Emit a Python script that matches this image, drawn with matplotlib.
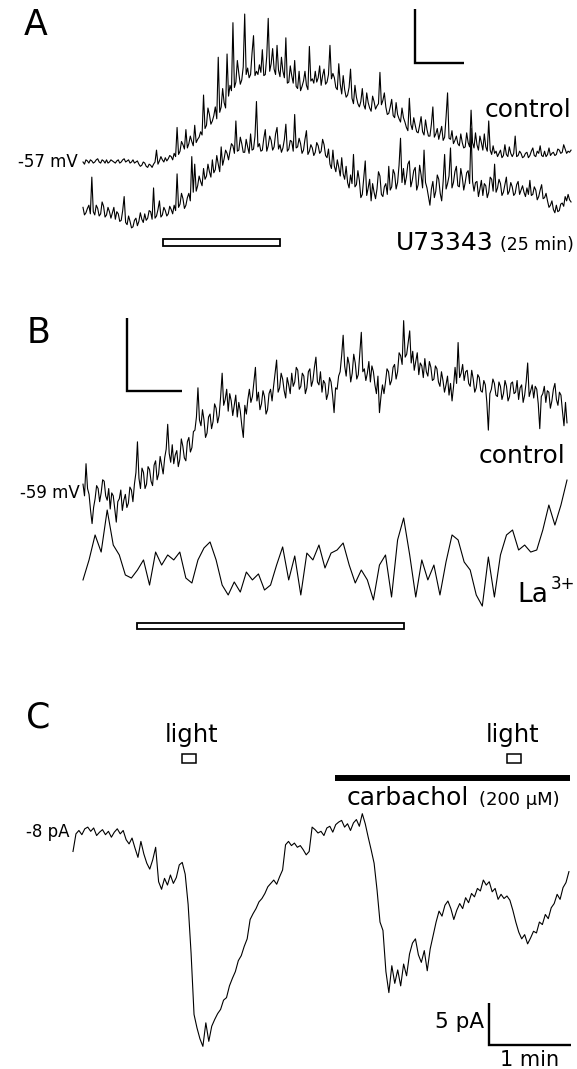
import numpy as np
import matplotlib
matplotlib.use("Agg")
import matplotlib.pyplot as plt
from matplotlib.patches import Rectangle

plt.rcParams['font.family'] = ['DejaVu Sans']

# ---------------- data ----------------
# Panel A: membrane potential (mV), sampled every A_DT minutes
A_DT = 0.03
A_CONTROL = [
    -57.0, -57.2, -56.8, -56.9, -57.1, -56.8, -56.9, -57.1, -57.0, -56.8,
    -56.7, -57.0, -57.1, -56.8, -56.9, -57.1, -56.8, -57.1, -57.0, -56.8,
    -56.9, -57.0, -57.1, -56.9, -56.8, -57.1, -57.0, -56.8, -56.7, -57.0,
    -56.9, -56.8, -57.1, -57.0, -56.8, -57.1, -57.0, -56.9, -57.2, -57.4,
    -57.3, -57.0, -57.1, -57.4, -57.5, -57.2, -57.3, -57.5, -57.2, -57.0,
    -55.9, -57.2, -56.9, -56.5, -56.8, -57.0, -56.6, -56.9, -56.7, -56.4,
    -56.5, -56.8, -56.2, -56.5, -53.8, -56.3, -56.0, -55.1, -55.4, -55.8,
    -54.0, -55.7, -55.3, -54.6, -55.1, -55.5, -53.6, -55.2, -54.9, -54.7,
    -54.2, -54.5, -50.8, -53.9, -53.6, -52.0, -52.6, -53.5, -53.2, -52.7,
    -51.9, -53.0, -47.3, -52.4, -51.9, -50.2, -51.5, -52.0, -47.0, -50.9,
    -49.9, -50.4, -44.1, -50.1, -49.6, -47.6, -48.8, -49.8, -49.4, -48.2,
    -43.3, -48.9, -48.3, -49.2, -48.9, -46.9, -45.3, -49.0, -48.6, -48.9,
    -48.0, -48.7, -46.6, -49.0, -48.9, -47.2, -43.7, -48.6, -47.9, -46.5,
    -48.4, -48.9, -46.2, -48.5, -49.1, -47.3, -48.6, -49.2, -45.5, -49.7,
    -49.6, -48.1, -49.0, -49.7, -47.6, -50.0, -50.2, -48.6, -50.4, -50.0,
    -49.5, -48.6, -49.9, -50.3, -46.3, -49.5, -49.3, -49.7, -48.6, -49.6,
    -49.2, -48.1, -49.9, -49.0, -48.4, -49.8, -49.6, -48.9, -46.2, -49.3,
    -48.8, -49.2, -50.1, -50.3, -47.9, -49.8, -50.7, -49.0, -50.3, -51.0,
    -50.8, -50.1, -48.4, -51.1, -51.6, -49.9, -51.0, -51.6, -51.9, -51.4,
    -50.2, -51.7, -52.1, -50.6, -51.5, -52.0, -52.3, -50.9, -51.4, -52.1,
    -51.8, -51.6, -48.7, -51.7, -51.3, -50.6, -51.9, -52.6, -52.5, -51.9,
    -51.2, -52.7, -52.9, -51.5, -52.6, -53.0, -53.3, -52.0, -52.9, -53.3,
    -53.8, -54.1, -51.1, -53.5, -54.0, -52.9, -53.6, -54.2, -54.3, -53.6,
    -52.8, -54.2, -54.5, -53.1, -54.0, -54.6, -54.6, -53.5, -51.9, -54.7,
    -54.4, -53.9, -54.9, -54.3, -53.7, -55.0, -54.7, -52.8, -50.6, -54.8,
    -54.9, -54.1, -55.3, -55.0, -54.6, -55.3, -55.5, -54.4, -55.2, -55.7,
    -55.6, -54.3, -55.2, -55.6, -52.2, -55.2, -55.7, -54.3, -55.4, -55.9,
    -54.6, -55.2, -55.9, -54.4, -55.6, -56.0, -53.2, -55.9, -56.3, -55.5,
    -56.2, -56.0, -56.5, -56.2, -55.9, -56.6, -56.4, -55.4, -56.3, -56.5,
    -55.6, -56.2, -56.5, -56.2, -54.6, -56.5, -56.4, -56.0, -56.2, -56.6,
    -56.5, -56.2, -56.1, -56.6, -56.4, -56.0, -55.7, -56.4, -56.5, -56.0,
    -56.2, -55.5, -56.4, -56.5, -56.0, -56.5, -56.3, -55.7, -56.4, -56.2,
    -56.1, -56.4, -56.3, -55.8, -55.9, -56.2, -56.1, -55.4, -55.8, -56.2,
    -56.0, -56.1, -55.9,
]
A_U73343 = [
    -61.2, -61.9, -61.7, -61.3, -61.0, -61.8, -58.4, -61.6, -61.9, -61.0,
    -61.3, -62.0, -61.8, -60.7, -61.1, -62.1, -61.9, -61.2, -61.6, -62.2,
    -61.7, -61.2, -62.3, -61.6, -61.8, -62.5, -62.4, -61.5, -60.2, -62.6,
    -62.8, -62.0, -62.5, -63.1, -63.0, -62.4, -62.2, -62.9, -62.5, -61.7,
    -62.3, -62.6, -61.8, -62.4, -62.2, -61.5, -61.6, -62.3, -59.4, -62.2,
    -62.0, -61.4, -60.6, -62.1, -61.9, -61.2, -61.5, -62.0, -61.8, -61.1,
    -61.4, -61.8, -61.0, -61.5, -58.1, -61.2, -60.9, -59.9, -60.4, -61.3,
    -61.0, -60.3, -59.9, -60.6, -56.5, -59.8, -57.2, -59.7, -59.2, -58.3,
    -58.8, -59.2, -57.6, -58.6, -58.3, -57.2, -57.9, -58.4, -56.8, -58.0,
    -57.7, -56.4, -57.2, -57.9, -55.6, -57.3, -56.7, -55.9, -56.2, -56.8,
    -56.0, -55.3, -55.5, -56.2, -53.2, -56.0, -55.9, -54.7, -55.3, -56.1,
    -56.1, -54.9, -55.6, -56.2, -54.4, -55.9, -55.8, -54.6, -51.4, -55.6,
    -55.3, -56.0, -55.9, -54.8, -54.0, -56.0, -55.5, -54.6, -55.0, -55.9,
    -55.6, -54.4, -53.8, -55.8, -55.4, -56.1, -55.7, -54.9, -53.5, -56.0,
    -55.8, -55.0, -55.1, -56.0, -52.6, -55.7, -55.6, -54.8, -55.3, -56.2,
    -55.9, -54.9, -54.1, -56.3, -56.0, -55.4, -55.7, -56.4, -56.1, -55.2,
    -55.5, -56.2, -56.0, -54.9, -55.4, -56.4, -56.6, -55.8, -57.2, -57.6,
    -55.9, -57.4, -57.9, -56.8, -57.5, -58.3, -56.6, -58.1, -58.6, -57.4,
    -58.9, -59.4, -58.2, -59.0, -56.3, -59.3, -59.1, -57.8, -58.7, -60.3,
    -60.0, -58.5, -56.9, -60.1, -59.4, -58.6, -60.6, -59.0, -59.8, -60.4,
    -59.5, -57.9, -58.3, -60.0, -60.2, -59.3, -59.0, -60.0, -57.4, -59.6,
    -59.3, -57.7, -58.1, -59.5, -58.9, -57.3, -54.8, -58.9, -57.6, -59.1,
    -58.4, -57.2, -56.9, -59.3, -58.7, -57.8, -57.5, -59.6, -59.1, -57.3,
    -58.2, -59.4, -55.9, -58.9, -59.4, -60.2, -61.0, -59.5, -58.8, -60.3,
    -59.7, -58.2, -58.6, -59.9, -60.6, -58.8, -56.3, -59.5, -59.0, -58.3,
    -55.7, -59.4, -58.9, -57.9, -57.4, -59.2, -59.3, -57.6, -58.4, -59.6,
    -58.9, -58.0, -57.8, -59.0, -53.9, -58.8, -59.7, -58.9, -58.8, -60.2,
    -59.5, -58.7, -60.1, -59.0, -59.2, -60.3, -59.8, -58.4, -58.6, -59.7,
    -57.2, -59.8, -59.4, -58.6, -59.0, -60.1, -59.8, -59.1, -58.4, -60.0,
    -59.7, -58.9, -59.3, -60.1, -59.9, -59.1, -58.8, -60.0, -59.6, -59.2,
    -59.8, -60.2, -59.4, -60.0, -58.7, -60.1, -60.0, -59.3, -59.6, -60.5,
    -60.2, -59.6, -59.1, -60.4, -60.3, -59.9, -60.6, -61.2, -61.0, -60.6,
    -61.4, -61.7, -61.0, -61.6, -61.5, -60.9, -60.8, -61.1, -60.2, -60.6,
    -60.0, -60.5, -60.7,
]
A_STIM = (1.63, 4.02)          # min, open bar
A_SCALE = (1.0, 5.0)           # min, mV

# Panel B
B_DT = 0.0275
B_CONTROL = [
    -58.6, -59.4, -57.2, -58.9, -59.3, -60.4, -61.3, -60.2, -59.6, -58.7,
    -58.9, -59.8, -59.2, -58.3, -58.4, -59.4, -59.7, -58.9, -60.3, -59.2,
    -59.4, -60.3, -61.2, -59.8, -59.6, -59.0, -60.4, -59.7, -59.3, -60.2,
    -59.9, -58.8, -59.0, -59.8, -58.6, -57.8, -55.7, -58.2, -58.9, -57.5,
    -57.8, -58.9, -58.6, -57.4, -57.6, -58.4, -58.7, -57.3, -57.0, -58.3,
    -57.9, -56.7, -57.3, -57.9, -56.8, -56.2, -54.5, -56.5, -57.1, -55.9,
    -57.2, -56.6, -56.3, -57.4, -56.9, -55.5, -56.0, -56.8, -57.0, -55.7,
    -55.4, -56.4, -56.1, -55.0, -54.9, -54.0, -52.0, -54.2, -54.6, -53.5,
    -54.2, -55.4, -55.1, -54.0, -53.8, -54.8, -54.3, -53.1, -53.4, -54.4,
    -53.9, -52.6, -51.0, -53.2, -52.8, -52.1, -53.6, -52.4, -52.9, -53.9,
    -53.2, -52.5, -54.0, -53.0, -53.6, -54.6, -55.4, -53.2, -53.8, -52.8,
    -52.1, -53.0, -52.6, -51.6, -50.6, -52.9, -52.3, -53.5, -53.1, -52.2,
    -52.6, -53.8, -53.5, -52.4, -52.1, -52.9, -51.9, -51.0, -50.1, -52.3,
    -52.0, -51.0, -51.4, -52.2, -52.7, -51.3, -51.8, -52.4, -51.0, -51.9,
    -51.6, -50.6, -50.8, -52.1, -51.9, -51.0, -51.2, -52.4, -52.0, -50.9,
    -50.7, -51.9, -51.5, -50.6, -49.9, -51.6, -51.8, -50.9, -52.3, -51.5,
    -51.7, -52.8, -52.4, -51.3, -51.6, -52.5, -53.7, -52.0, -52.1, -51.2,
    -50.9, -49.8, -48.4, -50.5, -51.2, -49.9, -50.4, -51.6, -51.0, -49.7,
    -50.3, -51.4, -51.1, -49.6, -48.2, -50.9, -50.7, -51.5, -51.0, -50.2,
    -51.6, -50.5, -50.9, -51.8, -52.4, -51.2, -53.7, -52.6, -51.8, -52.4,
    -51.6, -50.7, -50.9, -51.8, -51.5, -50.6, -50.4, -51.4, -50.9, -49.6,
    -49.8, -50.4, -47.4, -49.9, -49.7, -48.9, -48.1, -50.3, -49.5, -50.8,
    -50.2, -49.6, -51.1, -50.3, -50.5, -51.3, -50.0, -50.9, -51.2, -50.2,
    -50.6, -51.5, -51.4, -50.5, -50.7, -51.6, -51.9, -50.9, -51.5, -52.3,
    -51.8, -51.2, -52.5, -51.7, -52.9, -51.9, -50.6, -51.7, -48.9, -51.3,
    -51.0, -50.4, -51.5, -50.9, -50.8, -51.7, -51.9, -50.8, -51.4, -52.3,
    -52.0, -51.1, -51.3, -52.2, -52.3, -51.5, -51.8, -53.0, -54.9, -52.4,
    -52.1, -51.4, -51.7, -52.5, -52.6, -51.6, -51.9, -52.8, -52.4, -51.5,
    -51.9, -52.9, -52.6, -51.7, -51.6, -52.4, -52.3, -51.5, -52.8, -52.0,
    -51.8, -53.0, -52.5, -51.6, -50.3, -52.6, -52.2, -51.8, -52.7, -51.9,
    -52.1, -53.1, -54.8, -52.6, -52.4, -51.9, -53.0, -52.2, -52.3, -53.4,
    -52.9, -52.1, -51.7, -52.8, -53.2, -52.3, -52.5, -53.6, -54.6, -53.0,
    -54.4,
]
B_LA_DT = 0.11
B_LA = [
    -65.16, -63.79, -62.08, -63.25, -60.37, -62.77, -63.45, -64.82, -65.03, -64.48,
    -63.79, -65.51, -63.25, -64.14, -63.45, -63.79, -63.25, -65.03, -65.37, -63.79,
    -62.97, -62.56, -63.79, -65.51, -66.19, -65.30, -65.99, -64.62, -65.16, -64.75,
    -65.85, -65.51, -64.14, -62.90, -65.16, -63.52, -66.19, -63.32, -63.79, -62.77,
    -64.34, -63.32, -63.11, -62.63, -64.14, -65.37, -64.48, -65.16, -66.53, -64.14,
    -63.45, -66.33, -62.42, -60.92, -63.45, -66.33, -63.79, -65.16, -64.14, -66.19,
    -63.93, -62.08, -62.42, -63.93, -64.48, -66.19, -66.95, -63.59, -66.33, -63.45,
    -62.08, -61.74, -63.11, -62.77, -63.25, -63.11, -61.74, -60.03, -61.40, -60.03,
    -58.32,
]
B_STIM = (0.98, 5.84)
B_SCALE = (1.0, 5.0)

# Panel C: holding current (pA), sampled every C_DT minutes
C_DT = 0.036
C_TRACE = [
    -10.2, -8.1, -7.7, -8.2, -7.5, -7.3, -7.8, -7.4, -8.3, -7.9,
    -7.6, -8.2, -7.8, -8.5, -7.9, -7.5, -8.1, -7.7, -8.8, -9.3,
    -8.6, -9.8, -10.9, -9.0, -10.5, -11.6, -12.3, -11.2, -9.7, -13.8,
    -14.7, -13.4, -14.2, -13.0, -14.0, -13.3, -11.8, -11.5, -12.9, -16.5,
    -22.3, -29.6, -31.2, -32.5, -33.4, -30.6, -32.8, -31.0, -30.2, -29.5,
    -29.0, -27.9, -27.6, -26.2, -25.3, -24.5, -23.2, -22.6, -21.5, -20.6,
    -18.3, -17.6, -17.0, -16.2, -15.8, -15.2, -14.4, -14.0, -13.6, -14.1,
    -13.2, -12.4, -9.4, -9.0, -9.5, -9.2, -9.7, -9.5, -10.0, -10.6,
    -10.2, -7.3, -7.6, -8.0, -7.8, -8.3, -7.4, -7.2, -7.9, -7.0,
    -6.7, -6.5, -7.3, -6.9, -7.7, -6.8, -6.4, -7.2, -5.7, -6.9,
    -8.5, -10.0, -11.6, -14.8, -18.6, -19.6, -24.5, -27.0, -23.8, -25.9,
    -24.3, -26.2, -23.6, -25.0, -22.4, -21.1, -20.6, -22.5, -23.4, -22.0,
    -24.4, -21.8, -20.2, -18.6, -17.3, -17.9, -16.6, -16.1, -17.0, -18.3,
    -17.2, -16.4, -17.0, -15.7, -16.3, -15.2, -15.6, -14.6, -14.9, -13.6,
    -14.2, -13.8, -15.0, -14.6, -15.9, -15.3, -15.8, -15.5, -16.0, -17.2,
    -18.6, -19.8, -20.6, -20.1, -21.2, -20.5, -19.7, -19.9, -18.6, -18.9,
    -17.7, -18.2, -16.9, -16.4, -15.3, -15.9, -14.5, -13.9, -12.6,
]
C_LIGHT = [1.33, 5.29]        # min, light flash onsets
C_LIGHT_DUR = 0.17
C_CARBACHOL = (3.195, 6.06)
C_SCALE = (1.0, 5.0)          # min, pA

# ---------------- layout ----------------
W, H, DPI = 577, 1069, 100
fig = plt.figure(figsize=(W / DPI, H / DPI), dpi=DPI)
fig.patch.set_facecolor('white')


def panel(top, bottom, x0, t0, ppx, y0, v0, ppy):
    ax = fig.add_axes([0, 1 - bottom / H, 1, (bottom - top) / H])
    ax.set_xlim(t0 - x0 / ppx, t0 + (W - x0) / ppx)
    ax.set_ylim(v0 - (bottom - y0) / ppy, v0 + (y0 - top) / ppy)
    ax.axis('off')
    return ax


def ftext(x, y, s, **kw):
    fig.text(x / W, 1 - y / H, s, **kw)


def scalebar(ax, t0, v0, size, lw=1.7):
    dt, dv = size
    ax.plot([t0, t0, t0 + dt], [v0 + dv, v0, v0], color='black', lw=lw,
            solid_joinstyle='miter', solid_capstyle='butt', clip_on=False)


TR = dict(color='black', lw=0.8, clip_on=False)

# ---- Panel A ----
axA = panel(0, 262, 83, 0.0, 49.0, 162, -57.0, 10.8)
tA = np.arange(len(A_CONTROL)) * A_DT
axA.plot(tA, A_CONTROL, **TR)
tA2 = np.arange(len(A_U73343)) * A_DT
axA.plot(tA2, A_U73343, **TR)
axA.add_patch(Rectangle((A_STIM[0], -64.78), A_STIM[1] - A_STIM[0], 0.65,
                        facecolor='white', edgecolor='black', lw=1.3, clip_on=False))
scalebar(axA, 6.78, -47.83, A_SCALE)
ftext(24, 35, 'A', fontsize=25, ha='left', va='baseline')
ftext(78, 167, '-57 mV', fontsize=12, ha='right', va='baseline')
ftext(571, 117, 'control', fontsize=18, ha='right', va='baseline')
ftext(494, 250, 'U73343', fontsize=18, ha='right', va='baseline')
ftext(574, 250, '(25 min)', fontsize=12.5, ha='right', va='baseline')

# ---- Panel B ----
axB = panel(290, 660, 83, 0.0, 55.0, 490, -59.0, 14.6)
tB = np.arange(len(B_CONTROL)) * B_DT
axB.plot(tB, B_CONTROL, **TR)
tB2 = np.arange(len(B_LA)) * B_LA_DT
axB.plot(tB2, B_LA, **TR)
axB.add_patch(Rectangle((B_STIM[0], -68.52), B_STIM[1] - B_STIM[0], 0.41,
                        facecolor='white', edgecolor='black', lw=1.3, clip_on=False))
scalebar(axB, 0.8, -52.22, B_SCALE)
ftext(27, 343, 'B', fontsize=25, ha='left', va='baseline')
ftext(80, 498, '-59 mV', fontsize=12, ha='right', va='baseline')
ftext(565, 463, 'control', fontsize=18, ha='right', va='baseline')
ftext(517, 602, 'La', fontsize=19, ha='left', va='baseline')
ftext(551, 589, '3+', fontsize=12, ha='left', va='baseline')

# ---- Panel C ----
axC = panel(690, 1069, 73, 0.0, 82.0, 833, -8.0, 8.4)
tC = np.arange(len(C_TRACE)) * C_DT
axC.plot(tC, C_TRACE, **TR)
for on in C_LIGHT:
    axC.add_patch(Rectangle((on, 0.33), C_LIGHT_DUR, 1.07,
                            facecolor='white', edgecolor='black', lw=1.1, clip_on=False))
axC.plot(list(C_CARBACHOL), [-1.45, -1.45], color='black', lw=4.3,
         solid_capstyle='butt', clip_on=False)
scalebar(axC, 5.073, -33.24, C_SCALE)
ftext(26, 728, 'C', fontsize=25, ha='left', va='baseline')
ftext(69, 837, '-8 pA', fontsize=12, ha='right', va='baseline')
ftext(192, 742, 'light', fontsize=17.5, ha='center', va='baseline')
ftext(513, 742, 'light', fontsize=17.5, ha='center', va='baseline')
ftext(347, 805, 'carbachol', fontsize=18, ha='left', va='baseline')
ftext(560, 805, '(200 \u03bcM)', fontsize=13, ha='right', va='baseline')
ftext(484, 1028, '5 pA', fontsize=15.5, ha='right', va='baseline')
ftext(530, 1066, '1 min', fontsize=15, ha='center', va='baseline')

fig.savefig('out.png', dpi=DPI, facecolor='white')
